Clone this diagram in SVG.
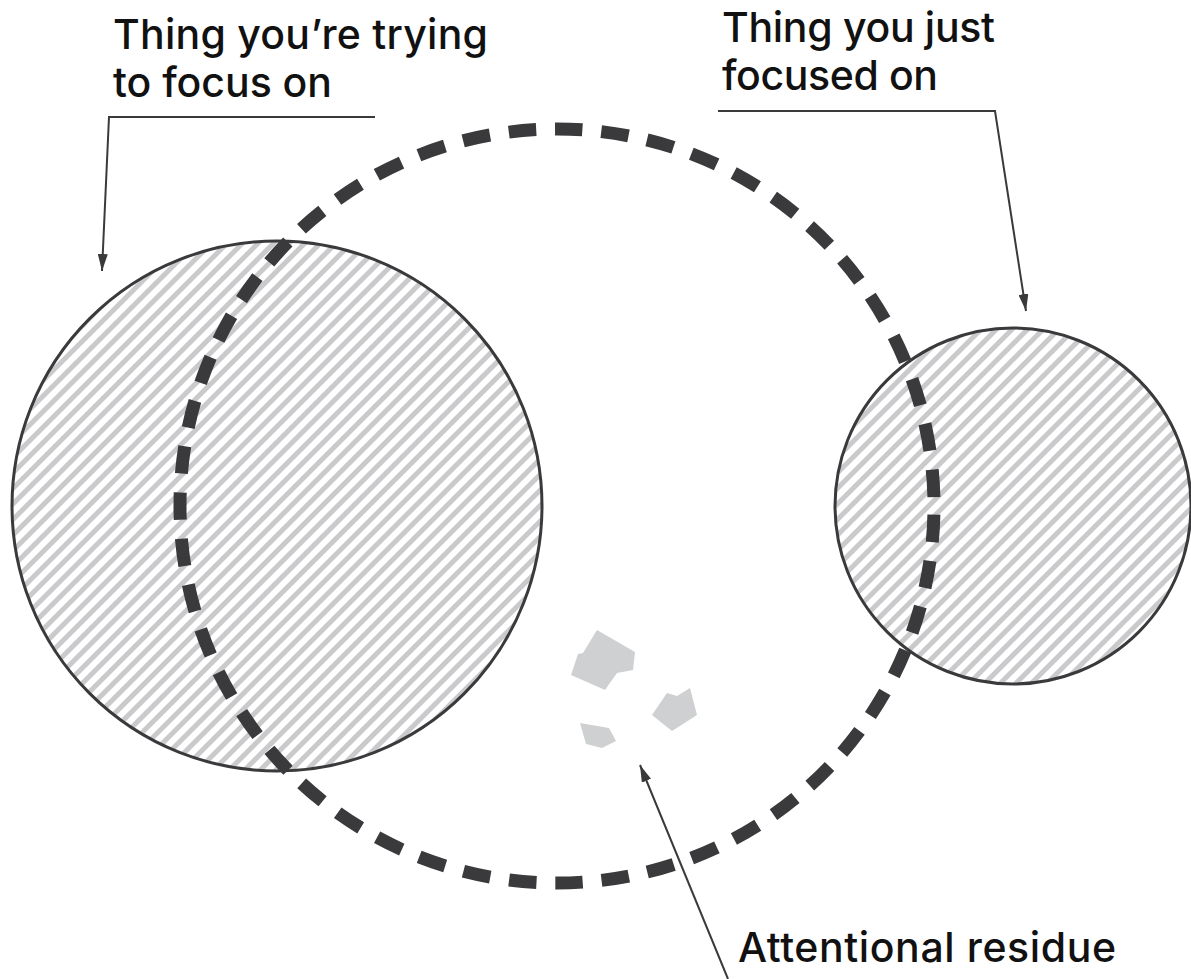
<svg xmlns="http://www.w3.org/2000/svg" width="1191" height="979" viewBox="0 0 1191 979">
<style>
.lbl{font-family:Inter,"DejaVu Sans","Liberation Sans",sans-serif;font-size:41px;font-weight:500;fill:#111;}
.ring{fill:url(#hatch);stroke:#3a3a3c;stroke-width:3;}
.conn{fill:none;stroke:#3a3a3c;stroke-width:2;}
.res{fill:#cfd0d2;}
</style>
<defs>
<pattern id="hatch" patternUnits="userSpaceOnUse" width="11" height="11" patternTransform="rotate(45)">
<rect width="11" height="11" fill="#fff"/>
<rect x="0" y="0" width="5" height="11" fill="#cacacc"/>
</pattern>
<marker id="arr" viewBox="0 0 17 10" refX="17" refY="5" markerWidth="17" markerHeight="10" markerUnits="userSpaceOnUse" orient="auto">
<path d="M0,0 L17,5 L0,10 z" fill="#3a3a3c"/>
</marker>
</defs>
<rect width="1191" height="979" fill="#fff"/>
<g id="node-left"><circle class="ring" cx="277" cy="506" r="265"/></g>
<g id="node-right"><circle class="ring" cx="1013" cy="506" r="178"/></g>
<g id="node-dashed"><circle cx="557" cy="506" r="377" fill="none" stroke="#3a3a3c" stroke-width="13" stroke-dasharray="27.5 18.95" stroke-dashoffset="-8.75"/></g>
<g id="node-residue">
<polygon class="res" points="597,630 635,652 633,670 617,673 605,690 571,675 578,654 583,653"/>
<polygon class="res" points="652,715 667,693 677,696 690,688 697,715 672,731"/>
<polygon class="res" points="580,723 609,728 616,741 602,748 586,744"/>
</g>
<g id="connectors">
<polyline class="conn" points="375,117 109,117 102,271" marker-end="url(#arr)"/>
<polyline class="conn" points="718,111 995,111 1026,311" marker-end="url(#arr)"/>
<line class="conn" x1="728" y1="979" x2="640" y2="765" marker-end="url(#arr)"/>
</g>
<g id="label-left"><text class="lbl" x="113" y="49" textLength="375" lengthAdjust="spacing">Thing you’re trying</text><text class="lbl" x="113" y="97" textLength="219" lengthAdjust="spacing">to focus on</text></g>
<g id="label-right"><text class="lbl" x="722" y="42" textLength="273" lengthAdjust="spacing">Thing you just</text><text class="lbl" x="722" y="90" textLength="216" lengthAdjust="spacing">focused on</text></g>
<g id="label-bottom"><text class="lbl" x="738" y="962" textLength="378" lengthAdjust="spacing">Attentional residue</text></g>
</svg>
